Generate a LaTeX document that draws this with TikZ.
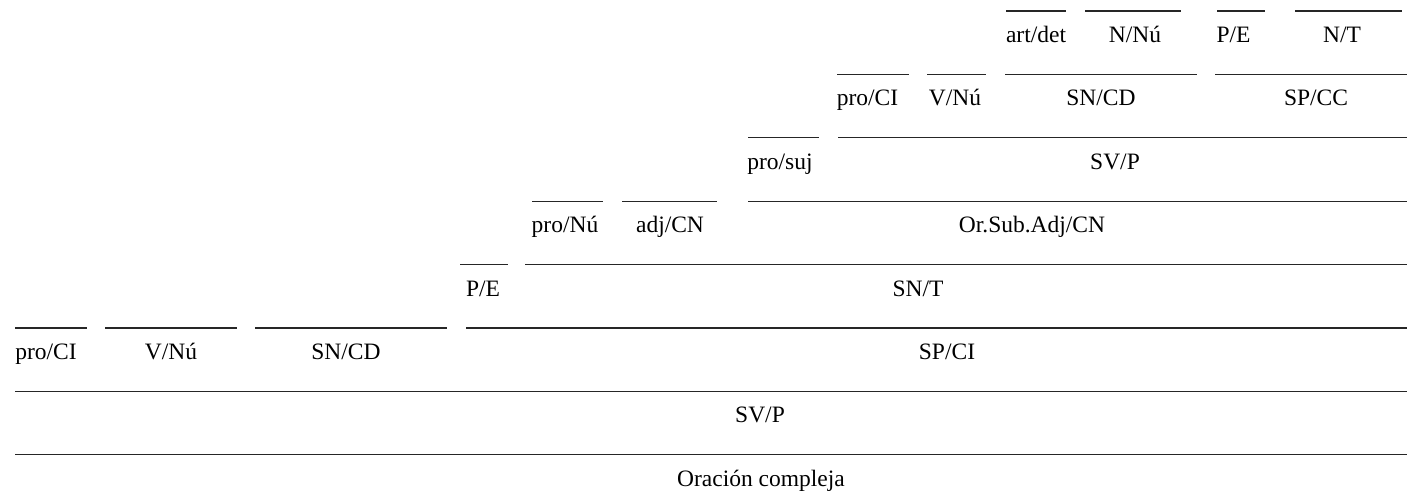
\documentclass[tikz,border=0pt]{standalone}
\usepackage{fontspec}
\setmainfont{Liberation Serif}
\tikzset{
  rule/.style={line width=1.2pt, black!85},
  lab/.style={anchor=base, inner sep=0pt, font=\fontsize{23.5}{28}\selectfont}
}
% #1 name, #2 x left, #3 x right, #4 y of rule, #5 x of label centre, #6 text
\newcommand{\constit}[6]{%
  \coordinate (#1L) at (#2,#4);
  \coordinate (#1R) at (#3,#4);
  \draw[rule] (#1L) -- (#1R);
  \node[lab] (#1) at (#5,#4+31.5) {#6};
}
\begin{document}
\begin{tikzpicture}[x=1pt,y=-1pt]
\useasboundingbox (0,0) rectangle (1410,491);
% row 0
\constit{artdet}{1006}{1066}{11}{1036}{art/det}
\constit{nnu}{1085}{1181}{11}{1135}{N/Nú}
\constit{peA}{1217}{1265}{11}{1233.5}{P/E}
\constit{nt}{1295}{1402}{11}{1342}{N/T}
% row 1
\constit{prociA}{837}{909}{74.4}{867.5}{pro/CI}
\constit{vnuA}{927}{986}{74.4}{955}{V/Nú}
\constit{sncdA}{1005}{1197}{74.4}{1101}{SN/CD}
\constit{spcc}{1215}{1407}{74.4}{1316}{SP/CC}
% row 2
\constit{prosuj}{748}{819}{137.8}{780}{pro/suj}
\constit{svpA}{838}{1407}{137.8}{1115}{SV/P}
% row 3
\constit{pronu}{532}{603}{201.2}{565}{pro/Nú}
\constit{adjcn}{622}{717}{201.2}{670}{adj/CN}
\constit{orsub}{748}{1407}{201.2}{1032}{Or.Sub.Adj/CN}
% row 4
\constit{peB}{460}{508}{264.6}{483}{P/E}
\constit{snt}{525}{1407}{264.6}{918}{SN/T}
% row 5
\constit{prociB}{15}{87}{328}{46}{pro/CI}
\constit{vnuB}{105}{237}{328}{171}{V/Nú}
\constit{sncdB}{255}{447}{328}{346}{SN/CD}
\constit{spci}{466}{1407}{328}{947}{SP/CI}
% row 6
\constit{svpB}{15}{1407}{391.4}{760}{SV/P}
% row 7
\constit{oracion}{15}{1407}{454.8}{761}{Oración compleja}
\end{tikzpicture}
\end{document}
